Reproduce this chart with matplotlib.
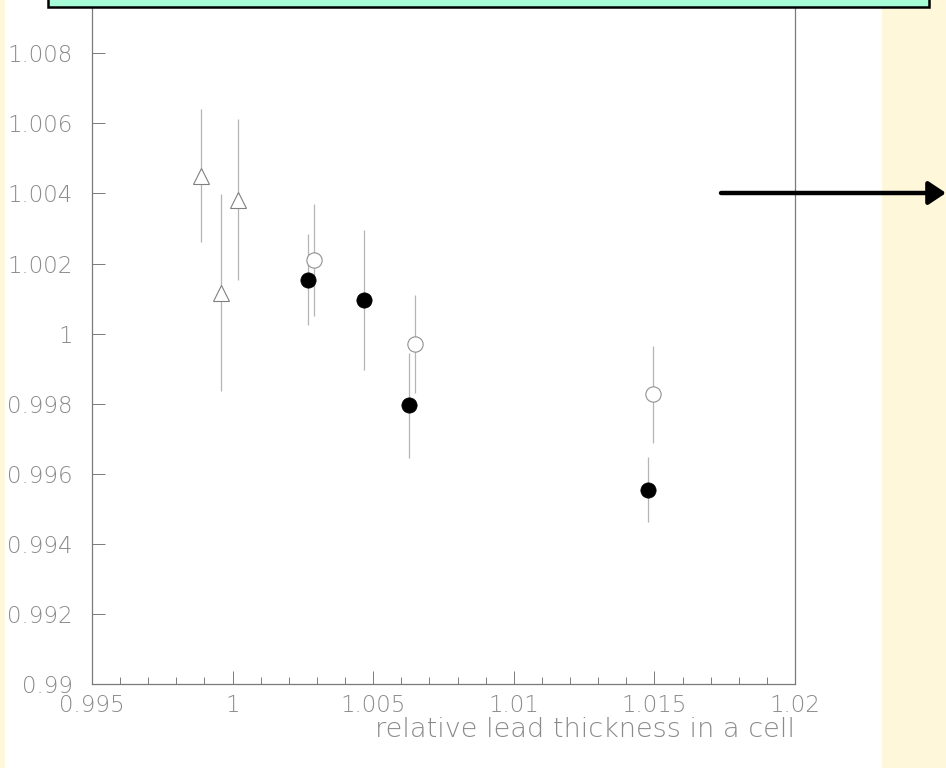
import matplotlib.pyplot as plt
import matplotlib.ticker as ticker
from matplotlib.patches import Rectangle, FancyArrowPatch

# lead thickness scan: triangles, open circles, filled circles
tri_x = [0.99889, 0.99959, 1.00020]
tri_y = [1.00451, 1.00117, 1.00382]
tri_err = [0.00189, 0.00280, 0.00230]

open_x = [1.00290, 1.00648, 1.01496]
open_y = [1.00210, 0.99970, 0.99827]
open_err = [0.00160, 0.00139, 0.00139]

full_x = [1.00268, 1.00466, 1.00627, 1.01478]
full_y = [1.00154, 1.00096, 0.99795, 0.99555]
full_err = [0.00130, 0.00200, 0.00150, 0.00092]

W, H = 946, 768
fig = plt.figure(figsize=(W/100, H/100), dpi=100)
fig.patch.set_facecolor('#fff7d9')

# white page behind the plot
fig.add_artist(Rectangle((5/W, 0), (882-5)/W, 1, transform=fig.transFigure,
                         facecolor='white', edgecolor='none', zorder=0))

ax = fig.add_axes([92/W, 84/H, 703/W, 684/H])
ax.set_xlim(0.995, 1.02)
ax.set_ylim(0.99, 1.00952)
ax.patch.set_alpha(0)

grey = '#8a8a8a'
for s in ['left', 'bottom', 'right']:
    ax.spines[s].set_color('#7a7a7a')
    ax.spines[s].set_linewidth(0.9)
ax.spines['top'].set_visible(False)

ax.xaxis.set_major_locator(ticker.MultipleLocator(0.005))
ax.xaxis.set_minor_locator(ticker.MultipleLocator(0.001))
ax.yaxis.set_major_locator(ticker.MultipleLocator(0.002))
fmt = ticker.FuncFormatter(lambda v, p: f'{round(v, 6):g}')
ax.xaxis.set_major_formatter(fmt)
ax.yaxis.set_major_formatter(fmt)

ax.tick_params(axis='x', which='major', direction='in', length=9.5, width=0.7,
               color='#7a7a7a', pad=7, labelsize=16.5, labelcolor=grey)
ax.tick_params(axis='x', which='minor', direction='in', length=5, width=0.7,
               color='#7a7a7a')
ax.tick_params(axis='y', which='major', direction='in', length=9.5, width=0.7,
               color='#7a7a7a', pad=14, labelsize=16.5, labelcolor=grey)
for lab in ax.get_xticklabels() + ax.get_yticklabels():
    lab.set_fontweight('light')

ax.set_xlabel('relative lead thickness in a cell', loc='right', fontsize=19.5,
              color=grey, fontweight='light', labelpad=0)

ebar = dict(fmt='none', ecolor='#b5b5b5', elinewidth=0.9, capsize=0, zorder=2)
ax.errorbar(tri_x, tri_y, yerr=tri_err, **ebar)
ax.errorbar(open_x, open_y, yerr=open_err, **ebar)
ax.errorbar(full_x, full_y, yerr=full_err, **ebar)

ax.plot(tri_x, tri_y, linestyle='none', marker='^', markersize=11.5,
        markerfacecolor='white', markeredgecolor='#808080', markeredgewidth=0.8, zorder=3)
ax.plot(open_x, open_y, linestyle='none', marker='o', markersize=11,
        markerfacecolor='white', markeredgecolor='#909090', markeredgewidth=0.8, zorder=3)
ax.plot(full_x, full_y, linestyle='none', marker='o', markersize=11,
        markerfacecolor='black', markeredgecolor='black', markeredgewidth=0.5, zorder=3)

# title box cut at the top edge
fig.add_artist(Rectangle((48/W, 1 - 7/H), (929-48)/W, 30/H, transform=fig.transFigure,
                         facecolor='#a6fcd6', edgecolor='black', linewidth=1.8, zorder=5))

# pointer arrow running off to the right
fig.add_artist(FancyArrowPatch((721/W, 1 - 193/H), (946/W, 1 - 193/H),
                               transform=fig.transFigure,
                               arrowstyle='-|>,head_length=10.5,head_width=7',
                               mutation_scale=1, linewidth=3.2, color='black',
                               shrinkA=0, shrinkB=0, zorder=6))

fig.savefig('out.png', dpi=100, facecolor=fig.get_facecolor())
